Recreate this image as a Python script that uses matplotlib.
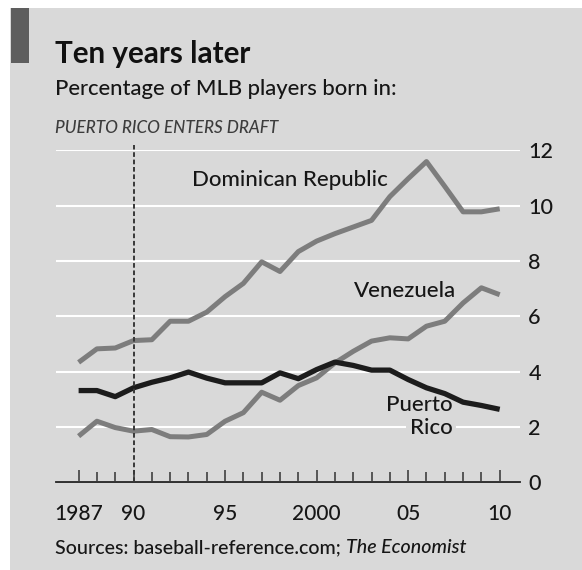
import matplotlib
matplotlib.use("Agg")
import matplotlib.pyplot as plt
from matplotlib.patches import Rectangle

# Share of MLB players born in each place, %
years = list(range(1987, 2011))
dominican_republic = [4.33, 4.82, 4.85, 5.12, 5.15, 5.82, 5.82, 6.15, 6.71, 7.19,
                      7.97, 7.62, 8.34, 8.72, 8.99, 9.23, 9.47, 10.33, 10.98, 11.6,
                      10.7, 9.78, 9.78, 9.89]
venezuela = [1.66, 2.2, 1.97, 1.84, 1.9, 1.64, 1.63, 1.72, 2.2, 2.51,
             3.25, 2.96, 3.49, 3.77, 4.31, 4.73, 5.1, 5.22, 5.18, 5.64,
             5.82, 6.48, 7.03, 6.78]
puerto_rico = [3.31, 3.31, 3.09, 3.41, 3.61, 3.77, 3.98, 3.76, 3.59, 3.59,
               3.59, 3.95, 3.74, 4.07, 4.34, 4.22, 4.05, 4.05, 3.71, 3.41,
               3.2, 2.89, 2.77, 2.63]

x_tick_years = [1987, 1990, 1995, 2000, 2005, 2010]
x_tick_labels = ["1987", "90", "95", "2000", "05", "10"]
y_ticks = [0, 2, 4, 6, 8, 10, 12]
draft_year = 1990

bg = "#d9d9d9"
light_line = "#7d7d7d"
dark_line = "#1c1c1c"
text_col = "#161616"

plt.rcParams["font.family"] = ["Lato", "DejaVu Sans"]
plt.rcParams["font.weight"] = "medium"

W, H = 582, 570
fig = plt.figure(figsize=(W / 100, H / 100), dpi=100)
fig.patch.set_facecolor("white")

# grey panel and the dark tab in the corner
fig.patches.append(Rectangle((10 / W, 0), 1 - 10 / W, 1 - 8 / H, transform=fig.transFigure,
                             facecolor=bg, edgecolor="none", zorder=-2))
fig.patches.append(Rectangle((11 / W, 1 - 63 / H), 18 / W, 55 / H, transform=fig.transFigure,
                             facecolor="#5e5e5e", edgecolor="none", zorder=-1))

# titles
fig.text(55 / W, 1 - 63 / H, "Ten years later", fontsize=21.3, fontweight="bold",
         color="#111111", va="baseline", ha="left")
fig.text(55 / W, 1 - 95 / H, "Percentage of MLB players born in:", fontsize=15.8,
         color=text_col, va="baseline", ha="left")
fig.text(55 / W, 1 - 133 / H, "PUERTO RICO ENTERS DRAFT", fontsize=12.3, style="italic",
         color="#3c3c3c", va="baseline", ha="left")
src = fig.text(55 / W, 1 - 553 / H, "Sources: baseball-reference.com; ", fontsize=14.1,
               color=text_col, va="baseline", ha="left")
fig.canvas.draw()
bb = src.get_window_extent()
fig.text(bb.x1 / W, 1 - 553 / H, "The Economist", fontsize=14.1, style="italic",
         color=text_col, va="baseline", ha="left")

ax = fig.add_axes([55.5 / W, 1 - 482 / H, (520 - 55.5) / W, (482 - 150.5) / H])
ax.set_facecolor("none")
ax.set_xlim(1987 - (78.6 - 55.5) / 18.3, 2010 + (520 - 499.7) / 18.3)
ax.set_ylim(0, 12)
for s in ax.spines.values():
    s.set_visible(False)

ax.set_yticks(y_ticks)
ax.set_yticklabels([str(v) for v in y_ticks])
ax.yaxis.tick_right()
ax.tick_params(axis="y", length=0, pad=6, labelsize=15.5, labelcolor=text_col)
ax.grid(axis="y", color="white", linewidth=1.5, zorder=1)
ax.set_axisbelow(True)

ax.set_xticks(x_tick_years)
ax.set_xticklabels(x_tick_labels)
ax.set_xticks(years, minor=True)
ax.tick_params(axis="x", which="major", direction="in", length=9, width=1.1,
               color="#333333", labelsize=15, labelcolor=text_col, pad=16)
ax.tick_params(axis="x", which="minor", direction="in", length=7, width=1.1,
               color="#333333")

ax.axhline(0, color="#222222", linewidth=1.3, zorder=3, clip_on=False)

ax.plot(years, dominican_republic, color=light_line, linewidth=3.6,
        solid_joinstyle="round", solid_capstyle="butt", zorder=4)
ax.plot(years, venezuela, color=light_line, linewidth=3.6,
        solid_joinstyle="round", solid_capstyle="butt", zorder=4)
ax.plot(years, puerto_rico, color=dark_line, linewidth=3.8,
        solid_joinstyle="round", solid_capstyle="butt", zorder=5)

dash, = ax.plot([draft_year, draft_year], [0, 12.2], color="#383838", linewidth=1.4,
                clip_on=False, zorder=6)
dash.set_dashes([2.4, 1.4])

ax.text(1993.17, 10.94, "Dominican Republic", fontsize=16, color=text_col,
        ha="left", va="center")
ax.text(2002.05, 6.9, "Venezuela", fontsize=16, color=text_col,
        ha="left", va="center")
ax.text(2007.43, 2.78, "Puerto", fontsize=16, color=text_col,
        ha="right", va="center", zorder=7)
ax.text(2007.43, 1.97, "Rico", fontsize=16, color=text_col,
        ha="right", va="center", zorder=7,
        bbox=dict(facecolor=bg, edgecolor="none", pad=2.5))

fig.savefig("out.png", dpi=100)
